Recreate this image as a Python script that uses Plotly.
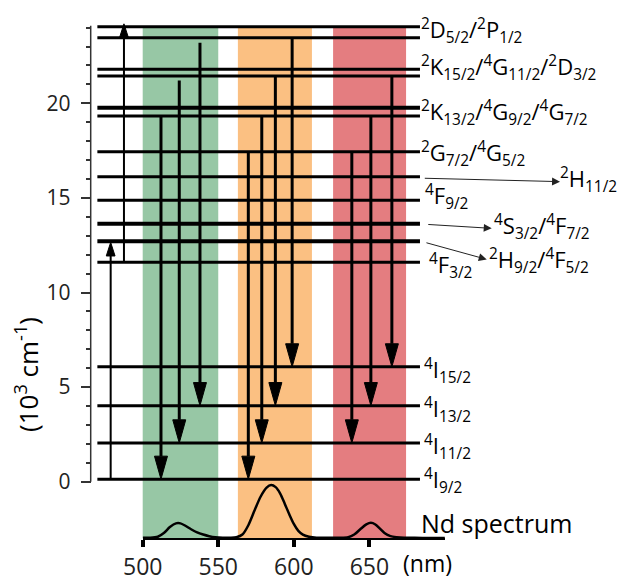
import plotly.graph_objects as go

# ---------------- data ----------------
# energy levels (10^3 cm^-1)
level_values = [0.13, 2.05, 4.02, 6.07, 11.6, 12.71, 13.63, 14.88, 16.12, 17.44,
                19.33, 19.77, 21.44, 21.8, 23.47, 24.04]
thick_levels = [12.71, 13.63, 19.77]
level_span_nm = [470.0, 683.5]

# emission (down) arrows: wavelength position, start level, end level
down_x = [512.1, 524.2, 537.9, 569.9, 578.8, 587.8, 598.9, 638.4, 651.0, 664.9]
down_from = [19.3, 21.2, 23.2, 17.4, 19.3, 21.4, 23.45, 17.4, 19.3, 21.44]
down_to = [0.13, 2.05, 4.02, 0.13, 2.05, 4.02, 6.07, 2.05, 4.02, 6.07]

# excitation (up) arrows
up_x = [478.8, 487.6]
up_from = [0.13, 11.6]
up_to = [12.65, 24.2]

# coloured emission bands (nm)
band_lo = [500, 563, 626]
band_hi = [550, 612, 674.3]
band_colors = ["#97C7A5", "#FBC082", "#E47D80"]
band_top = 24.04
band_bottom = -2.99

# Nd spectrum (nm, normalised intensity)
spec_nm = [500, 505, 510, 514, 518, 522, 525, 528, 532, 536, 540, 544, 548, 553, 558,
           562, 566, 570, 574, 578, 582, 585, 588, 591, 594, 597, 600, 603, 606, 610,
           615, 622, 630, 636, 640, 644, 648, 651, 654, 657, 660, 664, 668, 673, 680, 690, 700]
spec_int = [0.01, 0.01, 0.03, 0.10, 0.21, 0.28, 0.28, 0.24, 0.17, 0.11, 0.07, 0.04, 0.02, 0.01, 0.01,
            0.02, 0.07, 0.25, 0.52, 0.78, 0.95, 1.00, 0.96, 0.84, 0.65, 0.45, 0.27, 0.14, 0.07, 0.03,
            0.01, 0.01, 0.01, 0.02, 0.07, 0.17, 0.26, 0.29, 0.26, 0.18, 0.10, 0.04, 0.02, 0.01, 0.01, 0.005, 0.005]

# state labels: text, x (nm), y (10^3 cm^-1)
label_texts = [
    "<sup>2</sup>D<sub>5/2</sub>/<sup>2</sup>P<sub>1/2</sub>",
    "<sup>2</sup>K<sub>15/2</sub>/<sup>4</sup>G<sub>11/2</sub>/<sup>2</sup>D<sub>3/2</sub>",
    "<sup>2</sup>K<sub>13/2</sub>/<sup>4</sup>G<sub>9/2</sub>/<sup>4</sup>G<sub>7/2</sub>",
    "<sup>2</sup>G<sub>7/2</sub>/<sup>4</sup>G<sub>5/2</sub>",
    "<sup>4</sup>F<sub>9/2</sub>",
    "<sup>4</sup>F<sub>3/2</sub>",
    "<sup>2</sup>H<sub>11/2</sub>",
    "<sup>4</sup>S<sub>3/2</sub>/<sup>4</sup>F<sub>7/2</sub>",
    "<sup>2</sup>H<sub>9/2</sub>/<sup>4</sup>F<sub>5/2</sub>",
    "<sup>4</sup>I<sub>15/2</sub>",
    "<sup>4</sup>I<sub>13/2</sub>",
    "<sup>4</sup>I<sub>11/2</sub>",
    "<sup>4</sup>I<sub>9/2</sub>",
]
label_x = [682.9, 682.9, 682.9, 682.9, 685.5, 688.2, 774.9, 731.2, 727.9, 684.9, 684.9, 684.9, 684.9]
label_y = [23.84, 21.89, 19.49, 17.37, 15.05, 11.45, 15.95, 13.51, 11.71, 5.90, 3.84, 1.88, 0.04]

# thin transfer arrows: (x0, y0) -> (x1, y1)
thin_x0 = [685.7, 688.0, 686.8]
thin_y0 = [16.04, 13.60, 12.65]
thin_x1 = [776.2, 731.0, 727.7]
thin_y1 = [15.86, 13.39, 11.75]

y_ticks = [0, 5, 10, 15, 20]
y_minor = [v for v in range(1, 25) if v % 5]
x_ticks = [500, 550, 600, 650]

# ---------------- layout geometry ----------------
# the page body has an 8 px margin; figure is sized to fit the 625x581 window
OFF = 8
W, H = 625 - OFF, 581 - OFF
PX_NM = 1.511              # px per nm
X0_PX = 142.7 - OFF        # figure px of 500 nm
PX_Y = 18.92               # px per 10^3 cm^-1
Y0_PX = 481.7 - OFF        # figure px of 0
x_min = 500 - X0_PX / PX_NM
x_max = x_min + W / PX_NM
y_max = Y0_PX / PX_Y
y_min = y_max - H / PX_Y
yaxis_pos = (90.7 - OFF) / W
BASE_PX = 538.3 - OFF      # spectrum baseline

FONT = "Open Sans"

fig = go.Figure()

# level lines
for v in level_values:
    fig.add_trace(go.Scatter(
        x=level_span_nm, y=[v, v], mode="lines",
        line=dict(color="black", width=4 if v in thick_levels else 3),
        hoverinfo="skip", showlegend=False))


def arrow(xc, y_start, y_tip, head_len, head_half, width):
    d = 1 if y_tip > y_start else -1
    base = y_tip - d * head_len
    fig.add_trace(go.Scatter(x=[xc, xc], y=[y_start, base], mode="lines",
                             line=dict(color="black", width=width),
                             hoverinfo="skip", showlegend=False))
    fig.add_trace(go.Scatter(x=[xc - head_half, xc + head_half, xc, xc - head_half],
                             y=[base, base, y_tip, base], mode="lines", fill="toself",
                             fillcolor="black", line=dict(color="black", width=1),
                             hoverinfo="skip", showlegend=False))


for xc, a, b in zip(down_x, down_from, down_to):
    arrow(xc, a, b, 1.22, 4.3, 3)
for xc, a, b in zip(up_x, up_from, up_to):
    arrow(xc, a, b, 0.72, 2.9, 2)

# spectrum
fig.add_trace(go.Scatter(x=spec_nm, y=spec_int, xaxis="x2", yaxis="y2", mode="lines",
                         line=dict(color="black", width=2.5, shape="spline", smoothing=0.8),
                         hoverinfo="skip", showlegend=False))

shapes = []
for lo, hi, c in zip(band_lo, band_hi, band_colors):
    shapes.append(dict(type="rect", xref="x", yref="y", x0=lo, x1=hi,
                       y0=band_bottom, y1=band_top, fillcolor=c, line=dict(width=0),
                       layer="below"))
shapes.append(dict(type="line", xref="paper", yref="y", x0=yaxis_pos, x1=yaxis_pos,
                   y0=0, y1=24.1, line=dict(color="#333333", width=1.5)))

annotations = []
for t, x, y in zip(label_texts, label_x, label_y):
    annotations.append(dict(text=t, x=x, y=y, xref="x", yref="y", xanchor="left",
                            yanchor="middle", showarrow=False,
                            font=dict(family=FONT, size=22, color="black")))
for x0, y0, x1, y1 in zip(thin_x0, thin_y0, thin_x1, thin_y1):
    annotations.append(dict(text="", x=x1, y=y1, ax=x0, ay=y0, xref="x", yref="y",
                            axref="x", ayref="y", showarrow=True, arrowhead=2,
                            arrowsize=1.6, arrowwidth=1, arrowcolor="#222222", standoff=0))
annotations.append(dict(text="Nd spectrum", x=682.9, y=-2.18, xref="x", yref="y",
                        xanchor="left", yanchor="middle", showarrow=False,
                        font=dict(family=FONT, size=25, color="black")))
annotations.append(dict(text="(nm)", x=688.8, y=-4.30, xref="x", yref="y",
                        xanchor="center", yanchor="middle", showarrow=False,
                        font=dict(family=FONT, size=23, color="black")))
annotations.append(dict(text="(10<sup>3</sup> cm<sup>-1</sup>)", x=(27 - OFF) / W,
                        y=(H - (375 - OFF)) / H,
                        xref="paper", yref="paper", textangle=-90, showarrow=False,
                        xanchor="center", yanchor="middle",
                        font=dict(family=FONT, size=26, color="black")))

y2_bottom = (H - BASE_PX) / H
y2_top = (H - (BASE_PX - 53.3 * 1.08)) / H

fig.update_layout(
    template="none",
    width=W, height=H,
    margin=dict(l=0, r=0, t=0, b=0, autoexpand=False),
    paper_bgcolor="white", plot_bgcolor="rgba(0,0,0,0)",
    showlegend=False,
    xaxis=dict(domain=[0, 1], range=[x_min, x_max], visible=False, fixedrange=True,
               automargin=False),
    yaxis=dict(domain=[0, 1], range=[y_min, y_max], anchor="free", position=yaxis_pos,
               automargin=False,
               showline=False, showgrid=False, zeroline=False,
               ticks="outside", ticklen=10, tickwidth=1.5, tickcolor="#333333",
               tickmode="array", tickvals=y_ticks, ticklabelstandoff=6,
               tickfont=dict(family=FONT, size=21, color="#222222"),
               minor=dict(tickmode="array", tickvals=y_minor, ticks="outside",
                          ticklen=5, tickwidth=1.5, tickcolor="#333333", showgrid=False),
               fixedrange=True),
    xaxis2=dict(domain=[X0_PX / W, (X0_PX + 200 * PX_NM) / W], range=[500, 700],
                anchor="y2", automargin=False,
                showline=True, linecolor="black", linewidth=1.5,
                ticks="outside", ticklen=7, tickwidth=3.5, tickcolor="black",
                tickmode="array", tickvals=x_ticks, showgrid=False, zeroline=False,
                tickfont=dict(family=FONT, size=23, color="#222222"), fixedrange=True),
    yaxis2=dict(domain=[y2_bottom, y2_top], range=[0, 1.08], anchor="x2", visible=False,
                automargin=False, fixedrange=True),
    shapes=shapes,
    annotations=annotations,
)

fig.write_html("out.html")
